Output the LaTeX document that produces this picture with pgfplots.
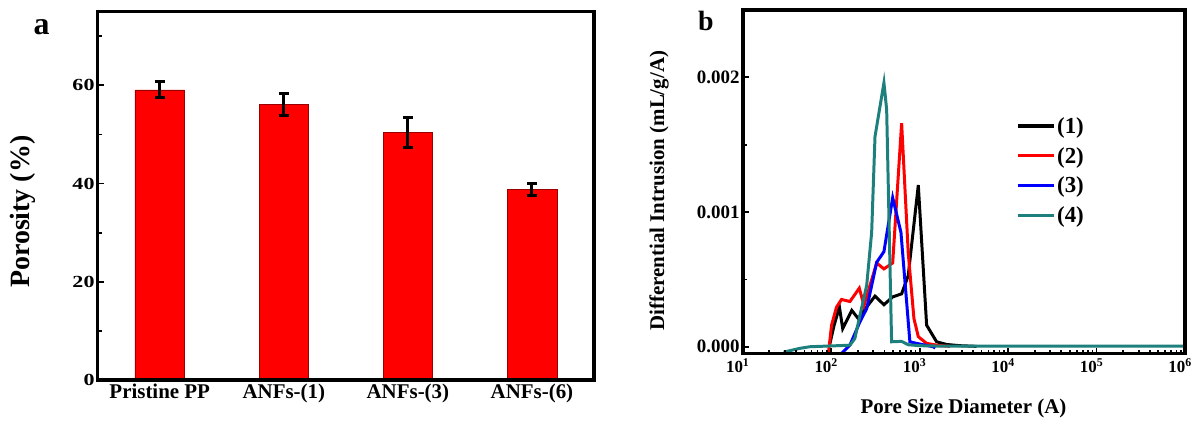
\documentclass[border=0pt]{standalone}
\usepackage{pgfplots}
\pgfplotsset{compat=1.18}
\usepackage{fontspec}
\setmainfont{Liberation Serif}
\newfontfamily\tickfont[FakeStretch=1.3]{Liberation Serif}
\definecolor{tealc}{RGB}{30,128,124}
\pgfplotsset{thickframe/.style={after end axis/.code={\draw[line width=3.6pt, line cap=rect] (rel axis cs:0,0) rectangle (rel axis cs:1,1);}}}
\begin{document}
\begin{tikzpicture}
\path[use as bounding box] (0,0) rectangle (1193bp,421bp);
% ---------------- panel a ----------------
\begin{axis}[
  at={(97.7bp,41bp)}, anchor=south west,
  scale only axis, width=496.3bp, height=368.3bp,
  thickframe,
  xmin=0.5, xmax=4.5, ymin=0, ymax=75,
  axis on top,
  xtick={1,2,3,4},
  xticklabels={Pristine PP,ANFs-(1),ANFs-(3),ANFs-(6)},
  xtick style={draw=none},
  ytick={0,20,40,60}, yticklabels={0,20,40,60},
  minor ytick={10,30,50,70},
  ytick pos=left, tick align=inside,
  major tick length=6pt, minor tick length=4pt,
  ytick style={line width=1.8pt, black},
  /pgf/number format/assume math mode=true,
  yticklabel style={font=\tickfont\bfseries\fontsize{17}{17}\selectfont, inner sep=3pt},
  xticklabel style={font=\bfseries\fontsize{21}{21}\selectfont, inner sep=4pt},
  ylabel={Porosity (\%)},
  ylabel style={at={(axis description cs:-0.1506,0.457)}, anchor=center, font=\bfseries\fontsize{28}{28}\selectfont},
  title={a},
  title style={at={(axis description cs:-0.113,0.943)}, anchor=center, font=\bfseries\fontsize{32}{32}\selectfont},
]
\addplot[ybar, bar width=49.6bp, fill=red, draw=red!60!black, line width=0.5pt,
  error bars/.cd, y dir=both, y explicit,
  error bar style={line width=3pt, black},
  error mark options={black, line width=3pt, mark size=5pt, rotate=90}]
coordinates {
  (1,59.1) +- (0,1.6)
  (2,56.1) +- (0,2.3)
  (3,50.4) +- (0,3.0)
  (4,38.8) +- (0,1.3)
};
\end{axis}
% ---------------- panel b ----------------
\begin{axis}[
  at={(742.7bp,67.5bp)}, anchor=south west,
  scale only axis, width=442.3bp, height=343.5bp,
  thickframe,
  xmode=log, xmin=10, xmax=1e6,
  ymin=-0.00005, ymax=0.0025,
  axis on top,
  xtick={10,100,1000,10000,100000,1000000},
  xticklabels={10\textsuperscript{1},10\textsuperscript{2},10\textsuperscript{3},10\textsuperscript{4},10\textsuperscript{5},10\textsuperscript{6}},
  minor xtick={20,30,40,50,60,70,80,90,200,300,400,500,600,700,800,900,2000,3000,4000,5000,6000,7000,8000,9000,20000,30000,40000,50000,60000,70000,80000,90000,200000,300000,400000,500000,600000,700000,800000,900000},
  ytick={0,0.001,0.002}, yticklabels={0.000,0.001,0.002},
  minor ytick={0.0005,0.0015},
  scaled y ticks=false,
  xtick pos=bottom, ytick pos=left, tick align=inside,
  major tick length=6pt, minor tick length=4pt,
  every tick/.style={line width=1.8pt, black},
  /pgf/number format/assume math mode=true,
  yticklabel style={font=\bfseries\fontsize{19}{19}\selectfont, inner sep=3pt},
  xticklabel style={font=\bfseries\fontsize{17}{17}\selectfont, xshift=-5pt, inner sep=5pt},
  xlabel={Pore Size Diameter (A)},
  xlabel style={at={(axis description cs:0.499,-0.16)}, anchor=center, font=\bfseries\fontsize{21}{21}\selectfont},
  ylabel={Differential Intrusion (mL/g/A)},
  ylabel style={at={(axis description cs:-0.189,0.474)}, anchor=center, font=\bfseries\fontsize{21}{21}\selectfont},
  title={b},
  title style={at={(axis description cs:-0.083,0.95)}, anchor=center, font=\bfseries\fontsize{28}{28}\selectfont},
  legend style={at={(axis description cs:0.6176,0.694)}, anchor=north west, draw=none, fill=none,
    font=\bfseries\fontsize{23}{23}\selectfont, inner sep=0pt, row sep=8.5pt},
  legend cell align=left,
  legend image code/.code={\draw[#1, line width=3.2pt] (0pt,0pt) -- (36pt,0pt);},
]
\addplot[black, line width=3pt] table {
95 0.0
108 0.00016
124 0.000295
135 0.000135
171 0.00027
202 0.00021
252 0.000295
313 0.000376
395 0.000312
496 0.00037
626 0.000393
743 0.000528
966 0.0012
1200 0.00016
1556 0.000037
2018 0.000017
2857 0.000008
4400 0.000003
};
\addplot[red, line width=3pt] table {
93 -0.00005
101 0.00016
115 0.000295
131 0.000351
163 0.000336
208 0.000435
235 0.000307
327 0.000622
395 0.000578
496 0.000622
626 0.00166
743 0.0007
862 0.00021
966 0.000075
1200 0.000025
1700 0.000008
2200 0.000003
};
\addplot[blue, line width=3pt] table {
131 -0.00005
163 0.000012
211 0.000184
252 0.000283
327 0.000627
395 0.000706
496 0.001107
615 0.000849
776 0.000037
925 0.000025
1426 0.0
1500 -0.00001
};
\addplot[tealc, line width=3pt] table {
29 -0.00004
44 -0.000012
57 0.0
89 0.000005
143 0.00001
163 0.000012
185 0.00006
211 0.00023
252 0.000455
287 0.00085
313 0.00156
395 0.00196
424 0.00176
482 0.000037
626 0.00004
744 0.000015
1000 0.000008
2000 0.000004
1000000 0.000004
};
\legend{(1),(2),(3),(4)}
\end{axis}
\end{tikzpicture}
\end{document}
